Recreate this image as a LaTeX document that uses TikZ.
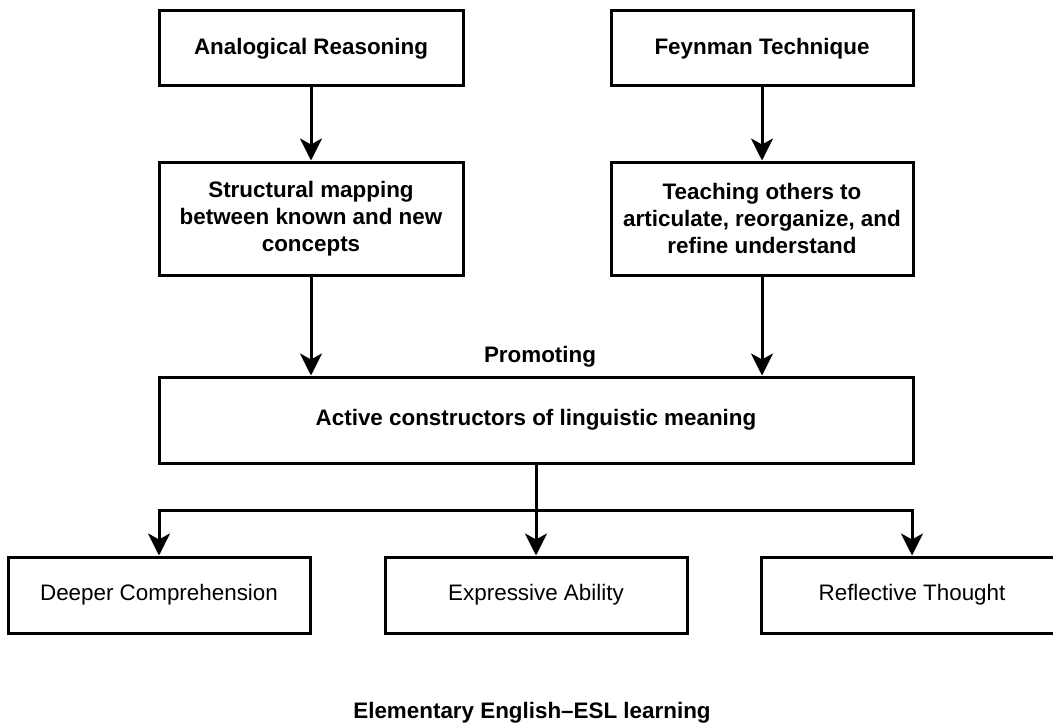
\documentclass[tikz,border=0pt]{standalone}
\usepackage{fontspec}
\setmainfont{Liberation Sans}
\usetikzlibrary{arrows.meta}
\begin{document}
\begin{tikzpicture}[x=1pt,y=-1pt,
  box/.style={draw=black, line width=3pt, fill=white, inner sep=0pt, align=center,
    font=\fontsize{22.4}{27}\selectfont},
  boldbox/.style={box, font=\fontsize{22.4}{27}\selectfont\bfseries},
  arr/.style={line width=3pt, -{Stealth[length=22pt,width=22pt,inset=6pt]}},
  plain/.style={line width=3pt},
  lbl/.style={font=\fontsize{22.4}{27}\selectfont\bfseries, inner sep=0pt}]
\useasboundingbox (0,0) rectangle (1053,725);
\fill[white] (0,0) rectangle (1053,725);

\node[boldbox, minimum width=304pt, minimum height=75pt] (a1) at (311,48.5) {Analogical Reasoning};
\node[boldbox, minimum width=302pt, minimum height=75pt] (f1) at (762,48.5) {Feynman Technique};
\node[boldbox, minimum width=304pt, minimum height=113pt] (a2) at (311,218.5) {Structural mapping\\between known and new\\concepts};
\node[boldbox, minimum width=302pt, minimum height=113pt] (f2) at (762,218.5) {Teaching others to\\articulate, reorganize, and\\refine understand};
\node[boldbox, minimum width=754pt, minimum height=86pt] (act) at (536,420) {Active constructors of linguistic meaning};

\node[box, minimum width=302pt, minimum height=76pt] (d) at (159,595) {Deeper Comprehension};
\node[box, minimum width=302pt, minimum height=76pt] (e) at (536,595) {Expressive Ability};
\node[box, minimum width=302pt, minimum height=76pt] (r) at (912,595) {Reflective Thought};

\node[lbl, anchor=base] (promo) at (540,362) {Promoting};
\node[lbl, anchor=base] (title) at (532,718) {Elementary English–ESL learning};

\draw[arr] (a1.south) -- (a2.north);
\draw[arr] (f1.south) -- (f2.north);
\draw[arr] (a2.south) -- (a2.south |- act.north);
\draw[arr] (f2.south) -- (f2.south |- act.north);

\coordinate (j) at (536,510);
\draw[plain] (act.south) -- (j);
\draw[arr] (j) -| (d.north);
\draw[arr] (j) -| (r.north);
\draw[arr] (j) -- (e.north);
\end{tikzpicture}
\end{document}
